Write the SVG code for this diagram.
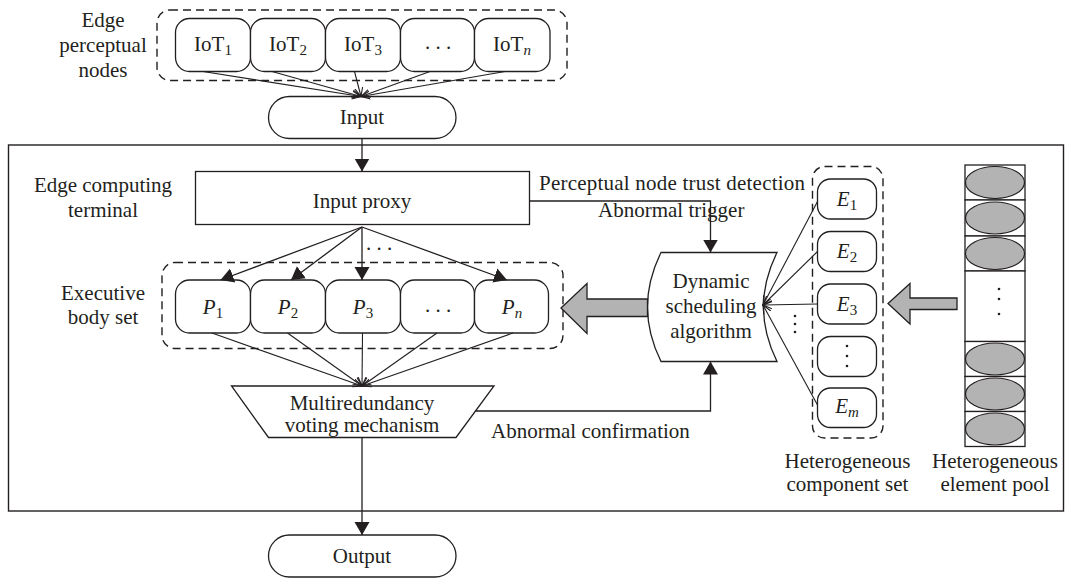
<svg xmlns="http://www.w3.org/2000/svg" width="1074" height="579" viewBox="0 0 1074 579">
  <style>
    text { font-family: "Liberation Serif", "Times New Roman", serif; font-size: 21px; fill: #231f20; }
    .mid { text-anchor: middle; }
    .it { font-style: italic; }
    .sub { font-size: 15px; }
    .box { fill: #ffffff; stroke: #231f20; stroke-width: 1.3; }
    .dash { fill: none; stroke: #231f20; stroke-width: 1.4; stroke-dasharray: 8 5; }
    .line { fill: none; stroke: #231f20; stroke-width: 1.3; }
    .thin { fill: none; stroke: #231f20; stroke-width: 1.1; }
    .fat { fill: #b3b3b3; stroke: #231f20; stroke-width: 1.3; }
    .cell { fill: #ffffff; stroke: #231f20; stroke-width: 1.3; }
    .blob { fill: #b3b3b3; stroke: #231f20; stroke-width: 1.2; }
  </style>
  <defs>
    <marker id="solid" markerUnits="userSpaceOnUse" markerWidth="16" markerHeight="18" refX="13" refY="7.5" orient="auto" viewBox="0 0 16 15">
      <path d="M0,0 L13,7.5 L0,15 Z" fill="#231f20"/>
    </marker>
    <marker id="open" markerUnits="userSpaceOnUse" markerWidth="12" markerHeight="10" refX="9" refY="4" orient="auto" viewBox="0 0 12 8">
      <path d="M0,0 L9,4 L0,8" fill="none" stroke="#231f20" stroke-width="1.1"/>
    </marker>
  </defs>

  <!-- outer frame of the edge computing terminal -->
  <rect x="8.5" y="145" width="1055" height="366" fill="none" stroke="#231f20" stroke-width="1.4"/>

  <!-- side labels -->
  <g id="label-perceptual">
    <text class="mid" x="103" y="26.5">Edge</text>
    <text class="mid" x="103" y="52">perceptual</text>
    <text class="mid" x="103" y="76.5">nodes</text>
  </g>
  <g id="label-terminal">
    <text class="mid" x="103" y="192">Edge computing</text>
    <text class="mid" x="103" y="217">terminal</text>
  </g>
  <g id="label-executive">
    <text class="mid" x="103" y="300">Executive</text>
    <text class="mid" x="103" y="324">body set</text>
  </g>

  <!-- IoT perceptual nodes -->
  <g id="iot-set">
    <rect class="dash" x="157" y="10" width="410" height="70.5" rx="13"/>
    <rect class="box" x="175.5" y="18.5" width="75" height="53" rx="14"/>
    <rect class="box" x="250.5" y="18.5" width="75" height="53" rx="14"/>
    <rect class="box" x="325.5" y="18.5" width="75" height="53" rx="14"/>
    <rect class="box" x="400.5" y="18.5" width="74" height="53" rx="14"/>
    <rect class="box" x="474.5" y="18.5" width="75.5" height="53" rx="14"/>
    <text class="mid" x="213" y="51">IoT<tspan class="sub" dy="4">1</tspan></text>
    <text class="mid" x="288" y="51">IoT<tspan class="sub" dy="4">2</tspan></text>
    <text class="mid" x="363" y="51">IoT<tspan class="sub" dy="4">3</tspan></text>
    <text class="mid" x="438" y="49">. . .</text>
    <text class="mid" x="512" y="51">IoT<tspan class="sub it" dy="4">n</tspan></text>
  </g>

  <g id="input">
    <rect class="box" x="268.5" y="96.5" width="187.5" height="42" rx="21"/>
    <text class="mid" x="362" y="124">Input</text>
  </g>

  <g id="input-proxy">
    <rect class="box" x="195.5" y="171.5" width="334" height="53"/>
    <text class="mid" x="362" y="208">Input proxy</text>
  </g>

  <!-- executive bodies -->
  <g id="executive-set">
    <rect class="dash" x="162" y="262.5" width="401" height="86" rx="13"/>
    <rect class="box" x="175.5" y="280" width="75" height="53" rx="14"/>
    <rect class="box" x="250.5" y="280" width="75" height="53" rx="14"/>
    <rect class="box" x="325.5" y="280" width="75" height="53" rx="14"/>
    <rect class="box" x="400.5" y="280" width="74" height="53" rx="14"/>
    <rect class="box" x="474.5" y="280" width="74" height="53" rx="14"/>
    <text class="mid" x="213" y="314"><tspan class="it">P</tspan><tspan class="sub" dy="4">1</tspan></text>
    <text class="mid" x="288" y="314"><tspan class="it">P</tspan><tspan class="sub" dy="4">2</tspan></text>
    <text class="mid" x="363" y="314"><tspan class="it">P</tspan><tspan class="sub" dy="4">3</tspan></text>
    <text class="mid" x="438" y="312">. . .</text>
    <text class="mid" x="512" y="314"><tspan class="it">P</tspan><tspan class="sub it" dy="4">n</tspan></text>
  </g>

  <g id="voting">
    <path class="box" d="M231.5,386 L494,386 L456,437.5 L268.5,437.5 Z"/>
    <text class="mid" x="362" y="410">Multiredundancy</text>
    <text class="mid" x="362" y="432">voting mechanism</text>
  </g>

  <g id="output">
    <rect class="box" x="268.5" y="535" width="187.5" height="42" rx="21"/>
    <text class="mid" x="362" y="563">Output</text>
  </g>

  <g id="scheduler">
    <path class="box" d="M661,252.5 L777,252.5 Q750,307 777,361.5 L661,361.5 Q634,307 661,252.5 Z"/>
    <text class="mid" x="711" y="288">Dynamic</text>
    <text class="mid" x="711" y="313">scheduling</text>
    <text class="mid" x="711" y="338">algorithm</text>
  </g>

  <!-- heterogeneous component set -->
  <g id="component-set">
    <rect class="dash" x="812.5" y="166.5" width="70.5" height="271.5" rx="12"/>
    <rect class="box" x="817.5" y="179" width="59" height="40" rx="13"/>
    <rect class="box" x="817.5" y="231.5" width="59" height="40" rx="13"/>
    <rect class="box" x="817.5" y="284" width="59" height="40" rx="13"/>
    <rect class="box" x="817.5" y="336.5" width="59" height="40" rx="13"/>
    <rect class="box" x="817.5" y="388" width="59" height="39.5" rx="13"/>
    <text class="mid" x="847" y="206"><tspan class="it">E</tspan><tspan class="sub" dy="4">1</tspan></text>
    <text class="mid" x="847" y="258"><tspan class="it">E</tspan><tspan class="sub" dy="4">2</tspan></text>
    <text class="mid" x="847" y="311"><tspan class="it">E</tspan><tspan class="sub" dy="4">3</tspan></text>
    <text class="mid" x="847" y="413"><tspan class="it">E</tspan><tspan class="sub it" dy="4">m</tspan></text>
    <g fill="#231f20">
      <circle cx="847" cy="346" r="1.3"/>
      <circle cx="847" cy="356" r="1.3"/>
      <circle cx="847" cy="366" r="1.3"/>
    </g>
    <text class="mid" x="847.5" y="468">Heterogeneous</text>
    <text class="mid" x="847.5" y="491">component set</text>
  </g>

  <!-- heterogeneous element pool -->
  <g id="element-pool">
    <rect class="cell" x="965" y="165" width="60" height="35"/>
    <rect class="cell" x="965" y="200" width="60" height="36"/>
    <rect class="cell" x="965" y="236" width="60" height="35"/>
    <rect class="cell" x="965" y="271" width="60" height="70.5"/>
    <rect class="cell" x="965" y="341.5" width="60" height="35"/>
    <rect class="cell" x="965" y="376.5" width="60" height="35"/>
    <rect class="cell" x="965" y="411.5" width="60" height="35"/>
    <ellipse class="blob" cx="995" cy="182.5" rx="29.5" ry="16"/>
    <ellipse class="blob" cx="995" cy="218" rx="29.5" ry="16"/>
    <ellipse class="blob" cx="995" cy="253.5" rx="29.5" ry="16"/>
    <ellipse class="blob" cx="995" cy="359" rx="29.5" ry="16"/>
    <ellipse class="blob" cx="995" cy="394" rx="29.5" ry="16"/>
    <ellipse class="blob" cx="995" cy="429" rx="29.5" ry="16"/>
    <g fill="#231f20">
      <circle cx="999" cy="289" r="1.3"/>
      <circle cx="999" cy="299" r="1.3"/>
      <circle cx="999" cy="314" r="1.3"/>
    </g>
    <text class="mid" x="995" y="468">Heterogeneous</text>
    <text class="mid" x="995" y="491">element pool</text>
  </g>

  <!-- connectors -->
  <g id="connectors">
    <!-- perceptual nodes into input -->
    <line class="thin" x1="203" y1="71.5" x2="361" y2="96.5" marker-end="url(#open)"/>
    <line class="thin" x1="272" y1="71.5" x2="361" y2="96.5" marker-end="url(#open)"/>
    <line class="thin" x1="354.5" y1="71.5" x2="361" y2="96.5" marker-end="url(#open)"/>
    <line class="thin" x1="430" y1="71.5" x2="361" y2="96.5" marker-end="url(#open)"/>
    <line class="thin" x1="505" y1="71.5" x2="361" y2="96.5" marker-end="url(#open)"/>

    <line class="line" x1="362" y1="138.5" x2="362" y2="171.5" marker-end="url(#solid)"/>

    <!-- proxy fan-out to executive bodies -->
    <line class="line" x1="362" y1="227" x2="220.5" y2="280" marker-end="url(#solid)"/>
    <line class="line" x1="362" y1="227" x2="291" y2="280" marker-end="url(#solid)"/>
    <line class="line" x1="362" y1="227" x2="362" y2="280" marker-end="url(#solid)"/>
    <line class="line" x1="362" y1="227" x2="507" y2="280" marker-end="url(#solid)"/>
    <text class="mid" x="379" y="250">. . .</text>

    <!-- executive bodies into voting -->
    <line class="thin" x1="212" y1="333" x2="362" y2="386" marker-end="url(#open)"/>
    <line class="thin" x1="287.5" y1="333" x2="362" y2="386" marker-end="url(#open)"/>
    <line class="thin" x1="362.5" y1="333" x2="362" y2="386" marker-end="url(#open)"/>
    <line class="thin" x1="437" y1="333" x2="362" y2="386" marker-end="url(#open)"/>
    <line class="thin" x1="513" y1="333" x2="362" y2="386" marker-end="url(#open)"/>

    <line class="line" x1="362" y1="437.5" x2="362" y2="535" marker-end="url(#solid)"/>

    <!-- abnormal trigger -->
    <polyline class="line" points="529.5,201 710.5,201 710.5,252.5" marker-end="url(#solid)"/>
    <text x="539" y="190" textLength="266">Perceptual node trust detection</text>
    <text x="598" y="217">Abnormal trigger</text>

    <!-- abnormal confirmation -->
    <polyline class="line" points="475.5,411 710.5,411 710.5,361.5" marker-end="url(#solid)"/>
    <text x="491" y="438">Abnormal confirmation</text>

    <!-- components into scheduler -->
    <line class="thin" x1="817.5" y1="201.5" x2="763" y2="305" marker-end="url(#open)"/>
    <line class="thin" x1="817.5" y1="251.5" x2="763" y2="305" marker-end="url(#open)"/>
    <line class="thin" x1="817.5" y1="304" x2="763" y2="305" marker-end="url(#open)"/>
    <line class="thin" x1="817.5" y1="405" x2="763" y2="305" marker-end="url(#open)"/>
    <g fill="#231f20">
      <circle cx="795" cy="316" r="1.3"/>
      <circle cx="795" cy="324" r="1.3"/>
      <circle cx="795" cy="332" r="1.3"/>
    </g>

    <!-- wide arrows -->
    <path class="fat" d="M647.5,299 L587,299 L587,283.5 L561,308 L587,333.5 L587,316.5 L647.5,316.5 Z"/>
    <path class="fat" d="M957,298 L910,298 L910,283.5 L888,303.5 L910,324 L910,309.5 L957,309.5 Z"/>
  </g>
</svg>
